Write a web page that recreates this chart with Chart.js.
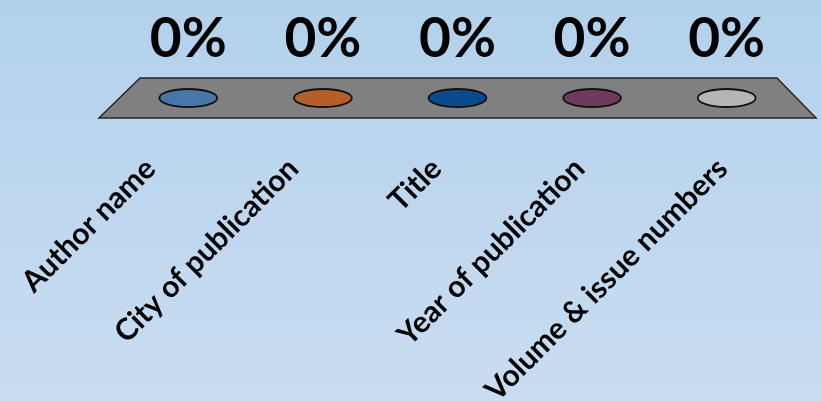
<!DOCTYPE html>
<html>
<head>
<meta charset="utf-8">
<script src="https://cdn.jsdelivr.net/npm/chart.js@4/dist/chart.umd.min.js"></script>
<style>
  html, body { margin: 0; padding: 0; }
  body { width: 821px; height: 401px; overflow: hidden; background: linear-gradient(#b3d1ec, #c9ddf1); }
  #wrap { width: 821px; height: 401px; }
</style>
</head>
<body>
<div id="wrap"><canvas id="chart"></canvas></div>
<script>
const categories = ['Author name', 'City of publication', 'Title', 'Year of publication', 'Volume & issue numbers'];
const percentValues = [0, 0, 0, 0, 0];
const barColors = ['#4677a8', '#b65e27', '#0a4b90', '#6e3a5c', '#b5b5b5'];

// flat 3d floor + the top faces of the (zero height) bars + value labels
const floor3d = {
    id: 'floor3d',
    beforeDatasetsDraw(chart) {
        const { ctx, chartArea } = chart;
        const base = chart.scales.y.getPixelForValue(0);
        ctx.save();
        ctx.beginPath();
        ctx.moveTo(chartArea.left + 19, base - 20);
        ctx.lineTo(chartArea.right - 17, base - 20);
        ctx.lineTo(chartArea.right + 22, base + 20);
        ctx.lineTo(chartArea.left - 22, base + 20);
        ctx.closePath();
        ctx.fillStyle = '#808080';
        ctx.fill();
        ctx.lineWidth = 1.5;
        ctx.strokeStyle = '#262626';
        ctx.stroke();
        ctx.restore();
    },
    afterDatasetsDraw(chart) {
        const { ctx } = chart;
        const ds = chart.data.datasets[0];
        chart.getDatasetMeta(0).data.forEach((bar, i) => {
            ctx.save();
            ctx.beginPath();
            ctx.ellipse(bar.x, bar.y, bar.width / 2, 9, 0, 0, Math.PI * 2);
            ctx.fillStyle = ds.backgroundColor[i];
            ctx.fill();
            ctx.lineWidth = 1.8;
            ctx.strokeStyle = '#111';
            ctx.stroke();

            ctx.fillStyle = '#000';
            ctx.font = 'bold 55px Lato';
            ctx.textAlign = 'center';
            ctx.textBaseline = 'alphabetic';
            ctx.fillText(ds.data[i] + '%', bar.x, bar.y - 41);
            ctx.restore();
        });
    }
};

const chart = new Chart(document.getElementById('chart'), {
    type: 'bar',
    data: {
        labels: categories,
        datasets: [{ data: percentValues, backgroundColor: barColors, borderWidth: 0, categoryPercentage: 1, barPercentage: 0.43 }]
    },
    options: {
        responsive: true,
        maintainAspectRatio: false,
        animation: false,
        layout: { padding: { top: 20, left: 121, right: 27, bottom: 0 } },
        plugins: { legend: { display: false }, tooltip: { enabled: false } },
        scales: {
            x: { display: false, offset: true },
            y: { display: false, min: 0, max: 1 },
            // labels sit along the front edge of the floor, which is wider than the plot
            xl: {
                type: 'linear', position: 'bottom', min: -0.353, max: 4.353, offset: false,
                grid: { display: false, drawTicks: false },
                border: { display: false },
                afterBuildTicks: s => { s.ticks = categories.map((c, i) => ({ value: i })); },
                afterFit: s => {
                    // keep the long rotated labels from squeezing the plot
                    s.height = 303;
                    s.paddingLeft = 0;
                    s.paddingRight = 0;
                },
                ticks: {
                    color: '#000',
                    font: { family: 'Lato', weight: 'bold', size: 30 },
                    minRotation: 45, maxRotation: 45, autoSkip: false,
                    padding: 53, labelOffset: -21,
                    callback: v => categories[v]
                }
            }
        }
    },
    plugins: [floor3d]
});
</script>
</body>
</html>
